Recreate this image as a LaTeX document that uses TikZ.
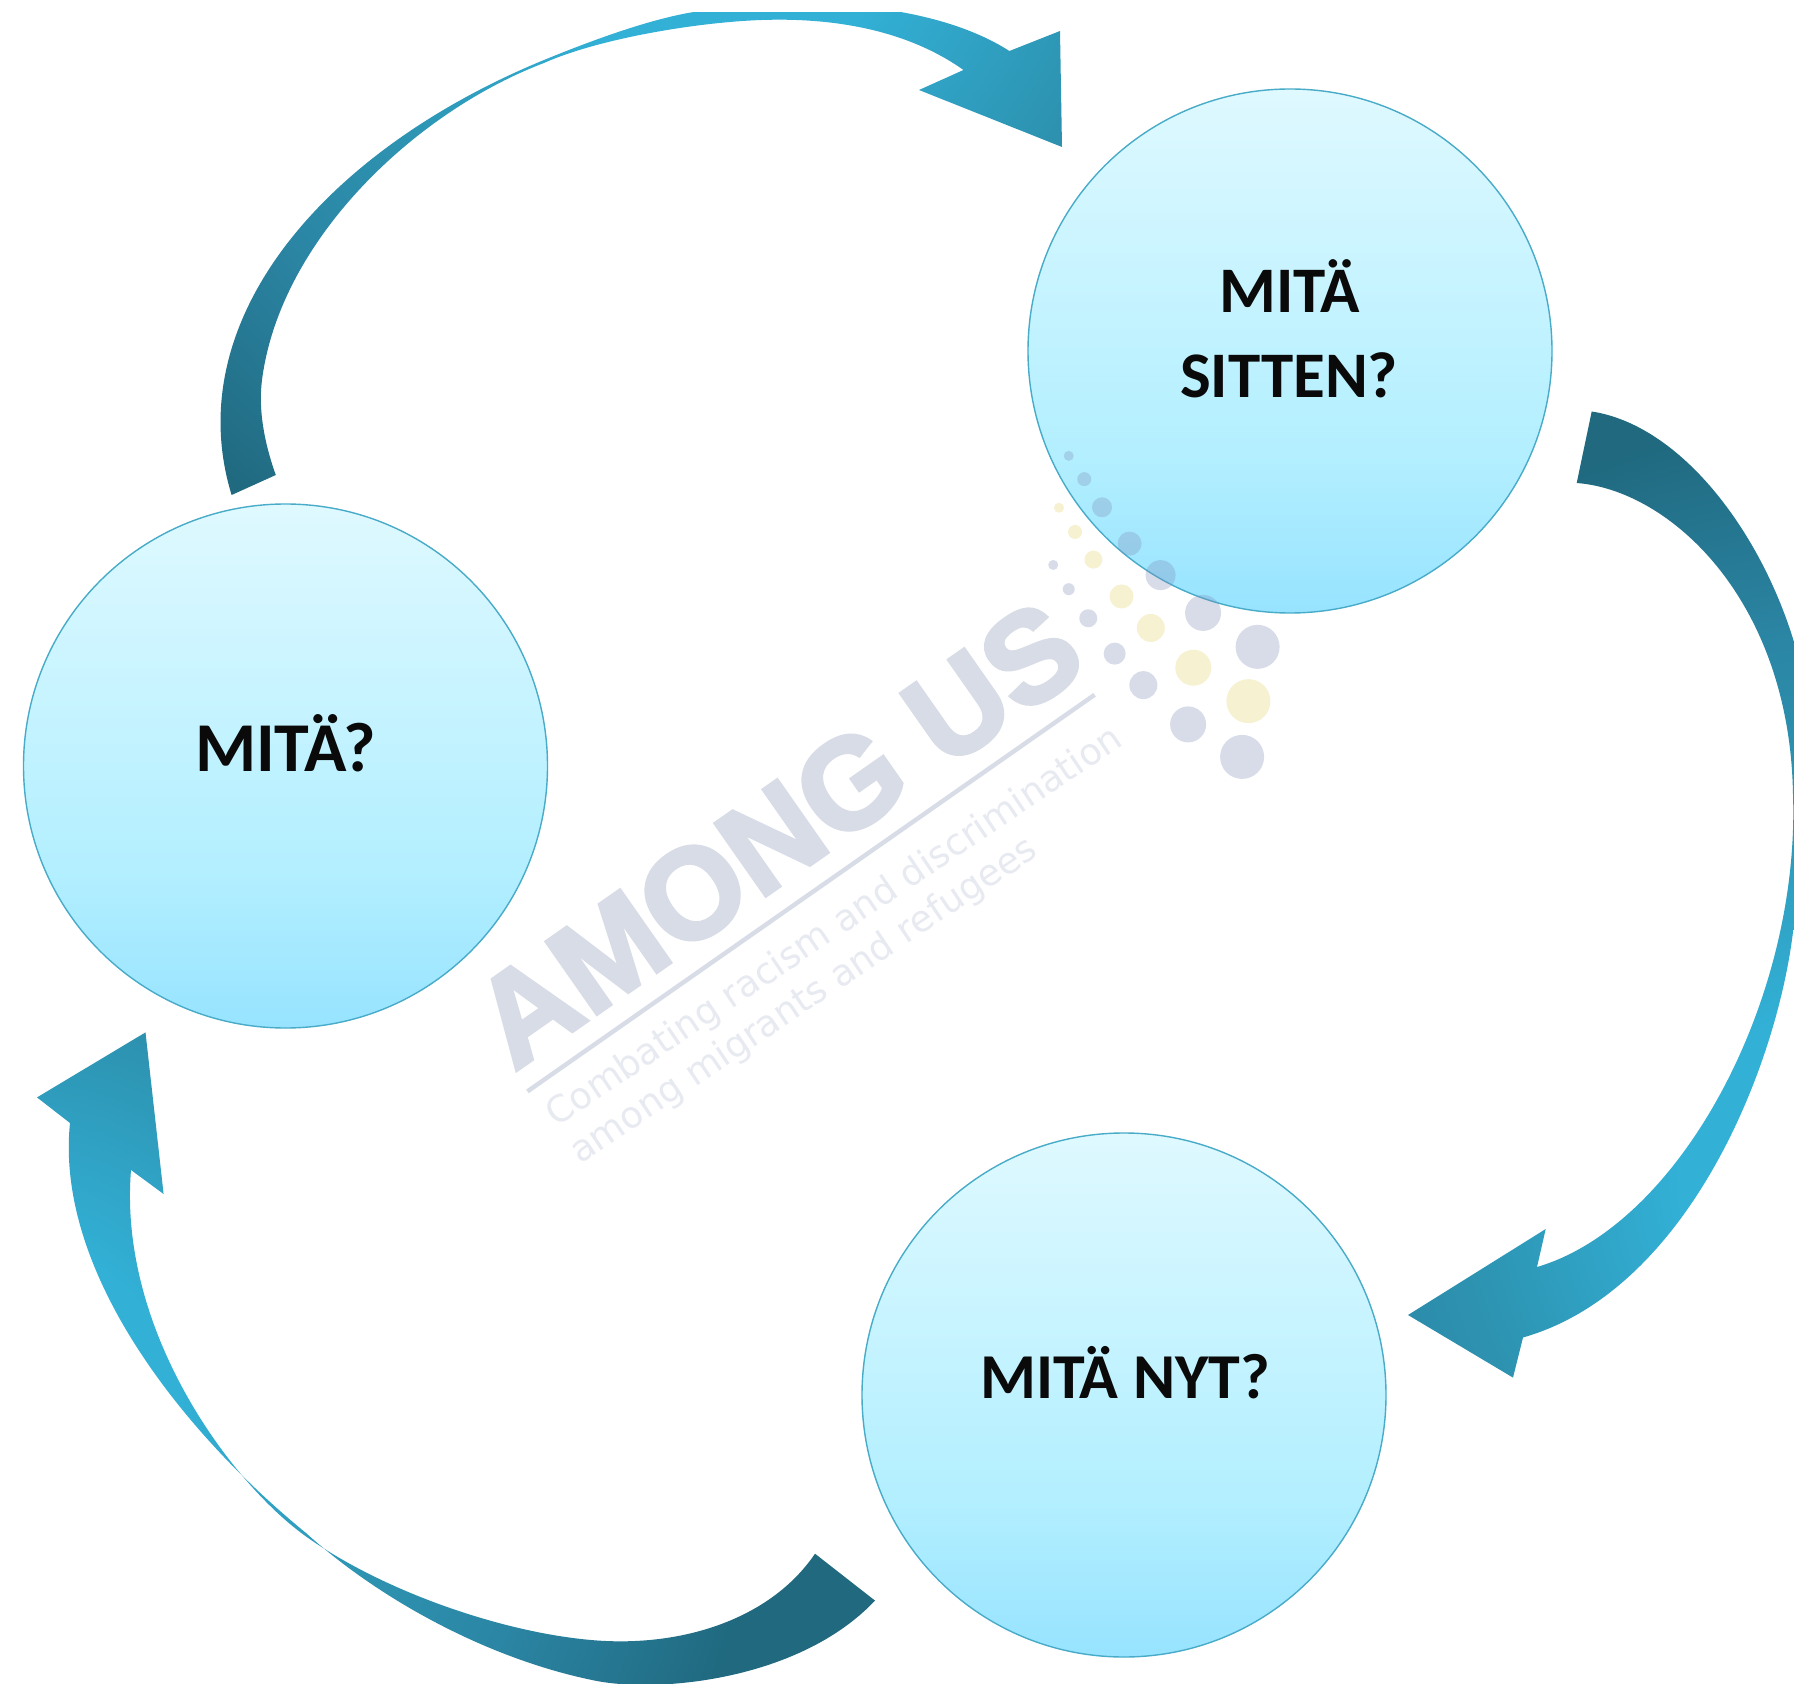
\documentclass[tikz,border=0pt]{standalone}
\usepackage{fontspec}
\setmainfont{Carlito}
\newfontfamily\wmfont[BoldFeatures={FakeBold=3}]{Liberation Sans}
\newfontfamily\wmsub{DejaVu Sans}
\usetikzlibrary{calc}
\definecolor{bubA}{HTML}{DFF9FF}
\definecolor{bubB}{HTML}{C8F4FF}
\definecolor{bubC}{HTML}{B3EFFF}
\definecolor{bubD}{HTML}{97E3FF}
\definecolor{bubline}{HTML}{48ABC8}
\definecolor{arA}{HTML}{32B0D6}
\definecolor{arB}{HTML}{2D92B0}
\definecolor{arC}{HTML}{2B86A5}
\definecolor{arD}{HTML}{20697F}
\definecolor{wmgrey}{HTML}{D8DCE6}
\definecolor{wmpale}{HTML}{E8EAF1}
\definecolor{dotblue}{HTML}{7E8CB8}
\definecolor{dotyel}{HTML}{E8D87A}
\definecolor{labelink}{HTML}{0A0A0A}
\pgfdeclareverticalshading{bubshade}{100bp}{color(0bp)=(bubD);color(25bp)=(bubD);color(40bp)=(bubC);color(57.5bp)=(bubB);color(75bp)=(bubA);color(100bp)=(bubA)}
\pgfdeclareradialshading{arrowshade}{\pgfpoint{0bp}{0bp}}{color(0bp)=(arA);color(5bp)=(arA);color(11.25bp)=(arB);color(15bp)=(arC);color(21.25bp)=(arD);color(50bp)=(arD)}
\tikzset{
  bubble/.style={circle,draw=bubline,line width=0.7pt,shading=bubshade,minimum size=262pt,inner sep=0pt},
  bublabel/.style={font=\bfseries\fontsize{32.5}{36}\selectfont,text=labelink,inner sep=0pt,anchor=center},
  wmbig/.style={font=\wmfont\bfseries\fontsize{64}{64}\selectfont,text=wmgrey,rotate=35,anchor=base west,inner sep=0pt},
  wmsmall/.style={font=\wmsub\fontsize{18.3}{18.3}\selectfont,text=wmpale,rotate=34,anchor=base west,inner sep=0pt},
}
\newcommand{\arrowfill}[3]{%
  \begin{scope}
    \clip #3;
    \shade[shading=arrowshade] (#1,#2) circle (900);
  \end{scope}}
\begin{document}
\begin{tikzpicture}[x=0.5pt,y=-0.5pt]
\useasboundingbox (0,0) rectangle (1794,1684);
\fill[white] (0,0) rectangle (1794,1684);

% watermark
\node[wmbig] (wmA) at (514,1072) {AMONG US};
\coordinate (wmL1) at (527.4,1091.4);
\coordinate (wmL2) at (1094.6,694.8);
\draw[wmgrey,line width=2.2pt] (wmL1) -- (wmL2);
\node[wmsmall] (wmB) at (556,1128) {Combating racism and discrimination};
\node[wmsmall] (wmC) at (580,1165) {among migrants and refugees};

% arrows
\begin{scope}
\clip (0,13) rectangle (1794,1684);
\arrowfill{720}{-100}{(231.6,495) .. controls (178,320) and (325,150) .. (544,60) .. controls (600,37) and (650,20) .. (688,13) .. controls (790,-5) and (930,0) .. (1009.4,51) -- (1060,31) -- (1062,147) -- (919,90) -- (963.5,70) .. controls (900,25) and (820,18) .. (762,20) .. controls (700,22) and (600,38) .. (544,63) .. controls (415,112) and (280,240) .. (262,380) .. controls (258,411) and (265,445) .. (275.8,475) -- cycle}
\arrowfill{1860}{1180}{(1591.7,411.5) .. controls (1680,425) and (1760,530) .. (1794,642) .. controls (1815,720) and (1815,840) .. (1794,923) .. controls (1780,1060) and (1690,1290) .. (1523,1337.5) -- (1513,1377.6) -- (1408,1315) -- (1545.7,1229) -- (1537,1267) .. controls (1680,1225) and (1800,1000) .. (1793,795) .. controls (1790,600) and (1670,490) .. (1576.7,483) -- cycle}
\arrowfill{0}{1420}{(815,1553.7) .. controls (770,1620) and (680,1648) .. (591,1640) .. controls (500,1632) and (380,1590) .. (304,1535) .. controls (230,1481) and (118,1330) .. (131,1170) -- (163.6,1194) -- (145.5,1032.4) -- (37,1097.4) -- (70,1123) .. controls (55,1270) and (180,1430) .. (306,1533) .. controls (380,1600) and (490,1660) .. (597,1681) .. controls (660,1693) and (800,1680) .. (875,1600.6) -- cycle}
\end{scope}

% bubbles
\node[bubble] (bubWhat) at (285.5,766) {};
\node[bubble] (bubThen) at (1290,351) {};
\node[bubble] (bubNow) at (1124,1395) {};
\node[bublabel,font=\bfseries\fontsize{35}{36}\selectfont] (txtWhat) at (285.5,743) {MITÄ?};
\node[bublabel] (txtThenA) at (1290,286.5) {MITÄ};
\node[bublabel] (txtThenB) at (1289,375) {SITTEN?};
\node[bublabel,font=\bfseries\fontsize{32}{36}\selectfont] (txtNow) at (1125,1373) {MITÄ NYT?};

% watermark dots (over the bubbles)
\foreach \X/\Y/\R in {1043/74/5,1070/122/7,1101/180/10,1149/255/12,1203/320/15,1277/398/18,1372/468/22,1016/299/5,1043/349/6,1077/409/9,1123/482/11,1173/547/14,1251/628/18,1345/695/22}
  \fill[dotblue,opacity=0.3] ({470+\X/1.742},{420+\Y/2.063}) circle (\R);
\foreach \X/\Y/\R in {1026/181/5,1054/231/7,1086/288/9,1135/364/12,1186/429/14,1260/511/18,1356/580/22}
  \fill[dotyel,opacity=0.35] ({470+\X/1.742},{420+\Y/2.063}) circle (\R);
\end{tikzpicture}
\end{document}
